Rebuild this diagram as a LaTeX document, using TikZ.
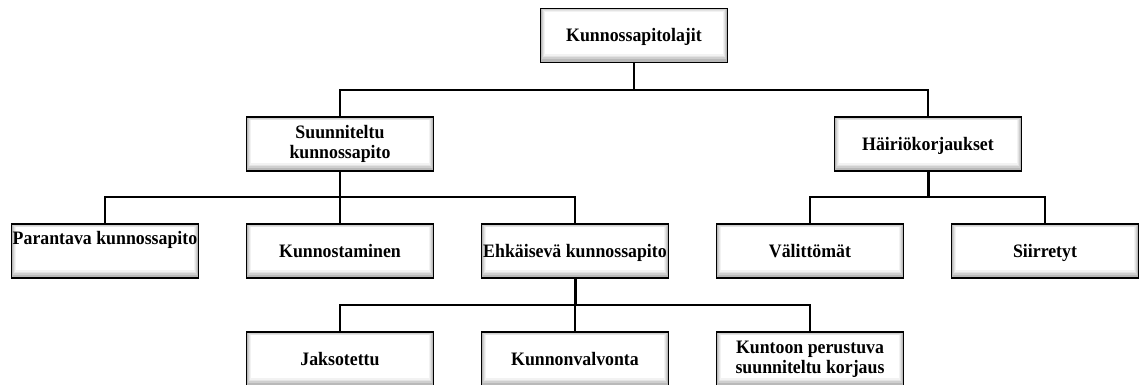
\documentclass[tikz,border=0pt]{standalone}
\usepackage{fontspec}
\setmainfont{Liberation Serif}
\newfontfamily\boxfont[FakeStretch=0.937]{Liberation Serif}
\begin{document}
\begin{tikzpicture}[x=1pt,y=-1pt,
  bxbase/.style={draw=black, line width=1.6pt, minimum width=187pt, minimum height=54pt,
    inner sep=0pt, fill=gray!55,
    font=\boxfont\fontsize{19}{19.8}\selectfont\bfseries,
    path picture={
      \fill[gray!38] ([shift={(1.2pt,3pt)}]path picture bounding box.south west) rectangle ([shift={(-1.2pt,-1pt)}]path picture bounding box.north east);
      \fill[gray!22] ([shift={(2.4pt,5pt)}]path picture bounding box.south west) rectangle ([shift={(-2.4pt,-1.8pt)}]path picture bounding box.north east);
      \fill[gray!10] ([shift={(3.4pt,6.5pt)}]path picture bounding box.south west) rectangle ([shift={(-3.4pt,-2.5pt)}]path picture bounding box.north east);
      \fill[white] ([shift={(4.4pt,8pt)}]path picture bounding box.south west) rectangle ([shift={(-4.4pt,-3.2pt)}]path picture bounding box.north east);
    }},
  bx/.style={bxbase, align=center},
  bxone/.style={bxbase, text height=13pt, text depth=0pt},
  ln/.style={draw=black, line width=1.5pt},
  thk/.style={draw=black, line width=3pt}]
\useasboundingbox (0,0) rectangle (1139,385);
\fill[white] (0,0) rectangle (1139,385);
\begin{scope}
\clip (0,0) rectangle (1139,385);
\coordinate (j1) at (634,90);
\coordinate (j2) at (340,197);
\coordinate (j3) at (928,197);
\coordinate (j4) at (575,305);
\node[bxone] (top) at (634,35.5) {Kunnossapitolajit};
\node[bx] (suun) at (340,144) {Suunniteltu\\kunnossapito};
\node[bxone] (hai) at (928,144) {Häiriökorjaukset};
\node[bx] (par) at (105,251) {Parantava kunnossapito\\\strut};
\node[bxone] (kun) at (340,251) {Kunnostaminen};
\node[bxone] (ehk) at (575,251) {Ehkäisevä kunnossapito};
\node[bxone] (val) at (810,251) {Välittömät};
\node[bxone] (sii) at (1045,251) {Siirretyt};
\node[bxone] (jak) at (340,359) {Jaksotettu};
\node[bxone] (kvv) at (575,359) {Kunnonvalvonta};
\node[bx] (kpk) at (810,359) {Kuntoon perustuva\\suunniteltu korjaus};
\draw[ln] (top.south) -- (j1);
\draw[ln] (suun.north) |- (j1) -| (hai.north);
\draw[ln] (suun.south) -- (j2);
\draw[ln] (par.north) |- (j2) -| (ehk.north);
\draw[ln] (j2) -- (kun.north);
\draw[thk] (hai.south) -- (j3);
\draw[ln] (val.north) |- (j3) -| (sii.north);
\draw[thk] (ehk.south) -- (j4);
\draw[ln] (jak.north) |- (j4) -| (kpk.north);
\draw[ln] (j4) -- (kvv.north);
\end{scope}
\end{tikzpicture}
\end{document}
